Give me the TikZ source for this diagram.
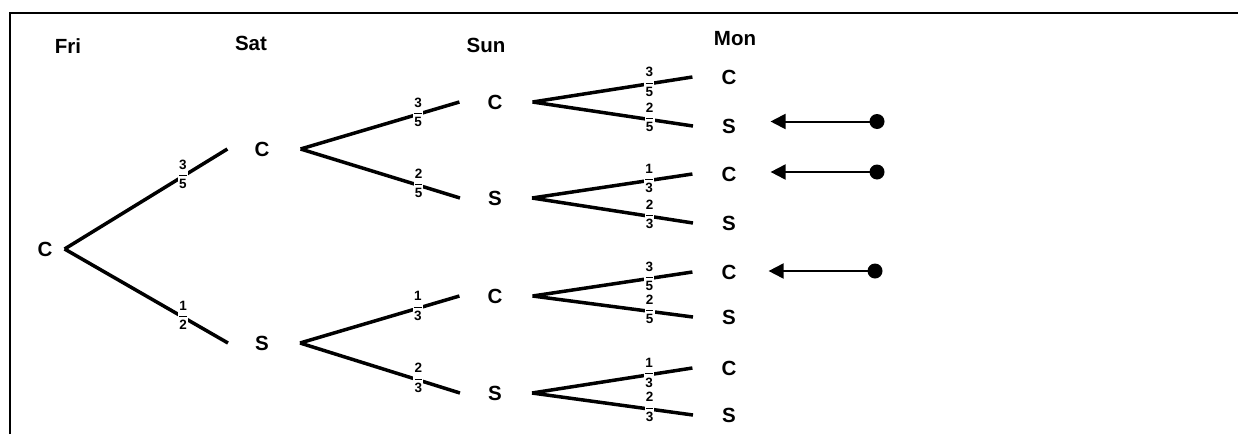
\documentclass[tikz,border=0pt]{standalone}
\usepackage{fontspec}
\setmainfont{Liberation Sans}
\usetikzlibrary{arrows.meta}
\newcommand\fra[2]{$\displaystyle\frac{\textbf{#1}}{\textbf{#2}}$}
\tikzset{
  lbl/.style={inner sep=0pt, font=\fontsize{20.5}{20.5}\selectfont\bfseries},
  br/.style={line width=3.5pt},
  fr/.style={fill=white, inner sep=0pt, yshift=2pt, font=\fontsize{13.5}{13.5}\selectfont\bfseries},
  arr/.style={line width=2pt, -{Triangle[length=15pt,width=15pt]}},
  dotnode/.style={circle, fill=black, inner sep=0pt, minimum size=15pt},
  frame/.style={line width=2.5pt}
}
\begin{document}
\begin{tikzpicture}[x=1pt,y=-1pt]
\useasboundingbox (0,0) rectangle (1238,434);
\fill[white] (0,0) rectangle (1238,434);
\draw[frame] (10,434) -- (10,13) -- (1238,13);
% headers
\node[lbl] (hfri) at (68,46) {Fri};
\node[lbl] (hsat) at (251,43) {Sat};
\node[lbl] (hsun) at (486,45) {Sun};
\node[lbl] (hmon) at (735,39) {Mon};
% nodes
\node[lbl] (f) at (45,249) {C};
\node[lbl] (a1) at (262,149) {C};
\node[lbl] (a2) at (262,343) {S};
\node[lbl] (b1) at (495,102) {C};
\node[lbl] (b2) at (495,198) {S};
\node[lbl] (b3) at (495,296) {C};
\node[lbl] (b4) at (495,393) {S};
\node[lbl] (c1) at (729,77) {C};
\node[lbl] (c2) at (729,126) {S};
\node[lbl] (c3) at (729,174) {C};
\node[lbl] (c4) at (729,223) {S};
\node[lbl] (c5) at (729,272) {C};
\node[lbl] (c6) at (729,317) {S};
\node[lbl] (c7) at (729,368) {C};
\node[lbl] (c8) at (729,415) {S};
% level 1
\draw[br] ([xshift=12pt]f.east) -- node[fr,pos=0.726]{\fra35} ([xshift=-27pt]a1.west);
\draw[br] ([xshift=12pt]f.east) -- node[fr,pos=0.726]{\fra12} ([xshift=-27pt]a2.west);
% level 2
\draw[br] ([xshift=31pt]a1.east) -- node[fr,pos=0.74]{\fra35} ([xshift=-28pt]b1.west);
\draw[br] ([xshift=31pt]a1.east) -- node[fr,pos=0.74]{\fra25} ([xshift=-28pt]b2.west);
\draw[br] ([xshift=31pt]a2.east) -- node[fr,pos=0.74]{\fra13} ([xshift=-28pt]b3.west);
\draw[br] ([xshift=31pt]a2.east) -- node[fr,pos=0.74]{\fra23} ([xshift=-28pt]b4.west);
% level 3
\draw[br] ([xshift=30pt]b1.east) -- node[fr,pos=0.73]{\fra35} ([xshift=-29pt]c1.west);
\draw[br] ([xshift=30pt]b1.east) -- node[fr,pos=0.73]{\fra25} ([xshift=-29pt]c2.west);
\draw[br] ([xshift=30pt]b2.east) -- node[fr,pos=0.73]{\fra13} ([xshift=-29pt]c3.west);
\draw[br] ([xshift=30pt]b2.east) -- node[fr,pos=0.73]{\fra23} ([xshift=-29pt]c4.west);
\draw[br] ([xshift=30pt]b3.east) -- node[fr,pos=0.73]{\fra35} ([xshift=-29pt]c5.west);
\draw[br] ([xshift=30pt]b3.east) -- node[fr,pos=0.73]{\fra25} ([xshift=-29pt]c6.west);
\draw[br] ([xshift=30pt]b4.east) -- node[fr,pos=0.73]{\fra13} ([xshift=-29pt]c7.west);
\draw[br] ([xshift=30pt]b4.east) -- node[fr,pos=0.73]{\fra23} ([xshift=-29pt]c8.west);
% markers
\node[dotnode] (d1) at (877,121.5) {};
\node[dotnode] (d2) at (877,172) {};
\node[dotnode] (d3) at (875,271) {};
\draw[arr, shorten >=34.5pt] (d1.center) -- (d1 -| c2.east);
\draw[arr, shorten >=34pt] (d2.center) -- (d2 -| c3.east);
\draw[arr, shorten >=32pt] (d3.center) -- (d3 -| c5.east);
\end{tikzpicture}
\end{document}
